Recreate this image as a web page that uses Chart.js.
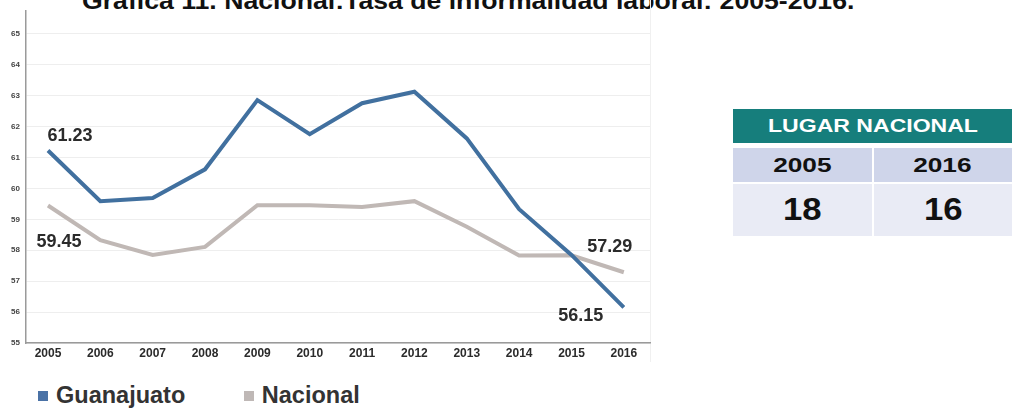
<!DOCTYPE html>
<html>
<head>
<meta charset="utf-8">
<script src="https://cdn.jsdelivr.net/npm/chart.js@4"></script>
<style>
  html, body { margin: 0; padding: 0; background: #fff; }
  body { width: 1018px; height: 413px; position: relative; overflow: hidden; font-family: 'Liberation Sans', Arial, sans-serif; }
  .title { position: absolute; left: 82px; top: -11px; font-size: 24px; line-height: 24px; font-weight: bold; color: #111; white-space: nowrap; transform: scaleX(1.11); transform-origin: left top; }
  .chart-box { position: absolute; left: 0; top: 0; width: 660px; height: 372px; }
  .chart-edge { position: absolute; left: 650px; top: 0; width: 1px; height: 362px; background: #f0f0f0; }
  .legend { position: absolute; left: 38px; top: 382px; font-size: 23.5px; font-weight: bold; color: #333; white-space: nowrap; }
  .legend span.sw { display: inline-block; width: 10px; height: 10px; margin-right: 8px; vertical-align: 2px; }
  .legend .item { display: inline-block; margin-right: 52px; }
  table.rank { position: absolute; left: 733px; top: 109px; width: 279px; border-collapse: collapse; font-weight: bold; color: #111; }
  table.rank td { text-align: center; padding: 0; }
  table.rank td span { display: inline-block; }
  table.rank .head td { background: #167e7c; color: #fff; height: 34px; font-size: 18px; }
  table.rank .head span { transform: scaleX(1.28); }
  table.rank .years td { background: #cfd5ea; height: 34px; font-size: 21px; border-top: 5px solid #fff; }
  table.rank .years span { transform: scaleX(1.25); }
  table.rank .vals td { background: #e9ebf5; height: 52px; font-size: 31px; border-top: 2px solid #fff; }
  table.rank .vals span { transform: scaleX(1.12); }
  table.rank .years td:first-child, table.rank .vals td:first-child { border-right: 2px solid #fff; }
</style>
</head>
<body>
<div class="title">Gráfica 11. Nacional:Tasa de informalidad laboral: 2005-2016.</div>
<div class="chart-edge"></div>
<div class="chart-box"><canvas id="chart"></canvas></div>
<div class="legend">
  <span class="item"><span class="sw" style="background:#4a72a6"></span>Guanajuato</span>
  <span class="item"><span class="sw" style="background:#bfb8b6"></span>Nacional</span>
</div>
<table class="rank">
  <tr class="head"><td colspan="2"><span>LUGAR NACIONAL</span></td></tr>
  <tr class="years"><td><span>2005</span></td><td><span>2016</span></td></tr>
  <tr class="vals"><td><span>18</span></td><td><span>16</span></td></tr>
</table>

<script>
// data
const years = [2005, 2006, 2007, 2008, 2009, 2010, 2011, 2012, 2013, 2014, 2015, 2016]
const guanajuato = [61.23, 59.59, 59.69, 60.62, 62.86, 61.76, 62.76, 63.13, 61.62, 59.33, 57.85, 56.15]
const nacional = [59.45, 58.33, 57.85, 58.11, 59.46, 59.46, 59.40, 59.59, 58.76, 57.83, 57.84, 57.29]
const yTicks = [55, 56, 57, 58, 59, 60, 61, 62, 63, 64, 65]

// labels shown next to first / last points: [dataset, index, dx, dy]
const pointLabels = [
  [0, 0, 22, -14],
  [1, 0, 11, 37],
  [1, 11, -14, -25],
  [0, 11, -43, 9]
]

const labelPlugin = {
  id: 'pointLabels',
  afterDatasetsDraw(chart) {
    const ctx = chart.ctx
    ctx.save()
    ctx.font = 'bold 18px "Liberation Sans", Arial, sans-serif'
    ctx.fillStyle = '#2b2b2b'
    ctx.textAlign = 'center'
    ctx.textBaseline = 'middle'
    pointLabels.forEach(([ds, i, dx, dy]) => {
      const pt = chart.getDatasetMeta(ds).data[i]
      const v = chart.data.datasets[ds].data[i].y
      ctx.fillText(v.toFixed(2), pt.x + dx, pt.y + dy)
    })
    ctx.restore()
  }
}

const toPoints = arr => arr.map((v, i) => ({ x: years[i], y: v }))

new Chart(document.getElementById('chart'), {
  type: 'line',
  data: {
    datasets: [
      { label: 'Guanajuato', data: toPoints(guanajuato), borderColor: '#41709f', borderWidth: 4, pointRadius: 0, tension: 0 },
      { label: 'Nacional', data: toPoints(nacional), borderColor: '#c0b8b5', borderWidth: 4, pointRadius: 0, tension: 0 }
    ]
  },
  options: {
    responsive: true,
    maintainAspectRatio: false,
    animation: false,
    layout: { padding: { top: 7, left: 0, right: 10, bottom: 0 } },
    plugins: { legend: { display: false }, tooltip: { enabled: false } },
    scales: {
      x: {
        type: 'linear',
        min: 2004.58,
        max: 2016.5,
        afterBuildTicks: scale => { scale.ticks = years.map(v => ({ value: v })) },
        afterFit: scale => { scale.height = 29 },
        grid: { display: false, drawTicks: false },
        border: { color: '#9a9a9a', width: 1.5 },
        ticks: { padding: 3, color: '#2b2b2b', font: { size: 12, weight: 'bold', family: 'Liberation Sans' }, callback: v => String(v), maxRotation: 0, autoSkip: false }
      },
      y: {
        min: 55,
        max: 65.75,
        afterBuildTicks: scale => { scale.ticks = yTicks.map(v => ({ value: v })) },
        afterFit: scale => { scale.width = 26 },
        grid: { color: '#eeeeee', drawTicks: false },
        border: { color: '#9a9a9a', width: 1.5 },
        ticks: { padding: 6, color: '#444', font: { size: 8, weight: 'bold', family: 'Liberation Sans' } }
      }
    }
  },
  plugins: [labelPlugin]
})
</script>
</body>
</html>
